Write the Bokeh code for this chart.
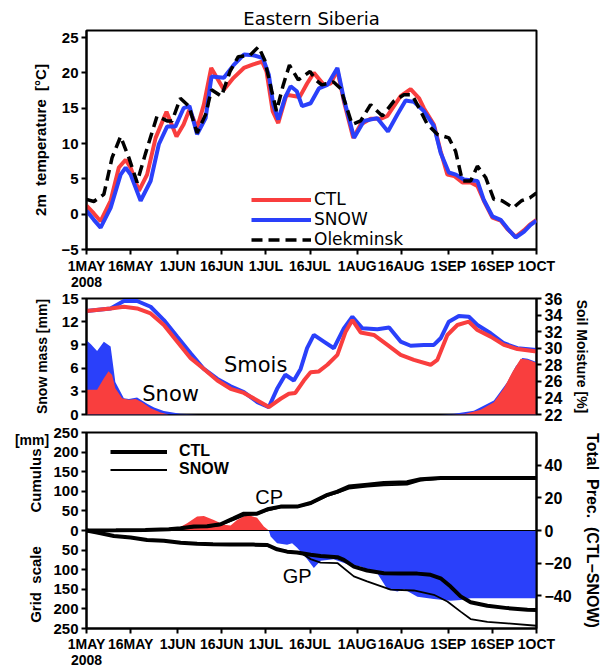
import numpy as np
from bokeh.plotting import figure
from bokeh.models import (Range1d, LinearAxis, FixedTicker, Label, Legend, LegendItem,
                          CustomJSTickFormatter, Span)
from bokeh.layouts import column, row
from bokeh.embed import file_html
from bokeh.resources import INLINE

# ---------------- data ----------------
date_ticks = [0, 15, 31, 46, 61, 76, 92, 107, 123, 138, 153]
date_labels = ["1MAY", "16MAY", "1JUN", "16JUN", "1JUL", "16JUL", "1AUG", "16AUG", "1SEP", "16SEP", "1OCT"]
year_label = "2008"

# 2m temperature [C]
t_ctl_day = [0, 2.5, 4.8, 8.2, 11, 13.3, 15, 17.8, 20.6, 23.5, 27.2, 30.6, 33, 35, 37.6, 39.9, 42.4, 46.7, 50,
             53.5, 56.7, 59.7, 61.2, 63.3, 65.2, 68, 72.5, 75, 77.3, 80.7, 83, 85.3, 87.5, 90.7, 93.2, 96.6, 100,
             102.3, 106.8, 110.2, 113.1, 114.7, 118.1, 120.4, 122.7, 125, 127.8, 130.6, 132.9, 135.1, 138, 140.8,
             143.1, 145.9, 148.7, 151, 153]
t_ctl = [1.2, 0.1, -1.0, 1.9, 6.6, 7.7, 6.6, 3.3, 5.6, 10.8, 14.5, 11.0, 12.7, 14.8, 12.2, 15.5, 20.7, 17.6, 19.3,
         20.7, 21.2, 21.6, 20.2, 14.6, 12.9, 16.9, 16.6, 18.5, 20.0, 18.3, 18.5, 20.4, 16.0, 10.8, 12.7, 13.5, 13.5,
         13.9, 16.7, 17.7, 16.4, 15.0, 12.7, 8.9, 5.6, 5.4, 4.5, 4.5, 4.0, 1.9, -0.5, -0.9,
         -2.1, -3.2, -2.3, -1.4, -0.8]
t_snow_day = [0, 2.5, 4.8, 8.2, 11.6, 13.3, 15, 18.4, 21.8, 24.6, 27.4, 30.2, 33, 35, 37.6, 40.5, 42.5, 46.7, 50,
              53.5, 56.7, 60, 62, 63.5, 65.2, 67.5, 69.4, 71.5, 73.3, 76.2, 79, 81.9, 85.3, 87.5, 91, 94.3, 98.8,
              102.5, 105.7, 108.5, 111.3, 114.7, 118.1, 120.4, 123.2, 125.6, 128.3, 132.9, 135.1, 138, 140.8, 143.1,
              145.9, 148.7, 151, 153]
t_snow = [0.5, -0.8, -1.9, 0.9, 5.6, 6.6, 5.6, 1.9, 4.7, 9.9, 12.4, 12.4, 15.0, 15.3, 11.3, 13.6, 19.5, 19.3, 21.1,
          22.6, 22.5, 22.1, 19.7, 15.5, 13.4, 16.5, 18.1, 17.4, 15.3, 15.7, 17.8, 18.3, 20.7, 16.3, 10.8, 13.2, 13.6,
          11.7, 14.1, 16.1, 15.9, 14.6, 12.5, 8.7, 5.9, 5.6, 4.9, 4.7, 2.0, -0.3, -0.8, -2.0,
          -3.3, -2.5, -1.5, -0.9]
t_obs_day = [0, 2.5, 5.9, 8.7, 11.6, 14.4, 17.2, 20, 24, 27.4, 29.1, 31.9, 34.8, 37.6, 40.5, 42.5, 45.9, 48.8, 51.6,
             55.6, 58.5, 60.6, 63, 64.6, 66.9, 69, 72, 76, 78, 80, 84, 86.4, 90.3, 93.2, 96.6, 100.6, 104.5, 107.9,
             110.7, 113.1, 115.9, 119.3, 123.2, 125.5, 127.8, 130.6, 132.9, 135.7, 138.5, 141.3, 145.1, 147.9,
             150.7, 153]
t_obs = [2.1, 1.8, 2.8, 8.0, 11.0, 8.0, 4.5, 8.5, 13.9, 13.2, 13.2, 16.4, 15.3, 11.5, 14.1, 17.6, 16.7, 20.2, 22.3,
         22.5, 23.7, 21.8, 17.4, 14.6, 18.3, 21.1, 19.0, 20.2, 19.0, 18.3, 18.7, 17.8, 12.7, 13.2, 15.5, 13.9, 16.0,
         16.9, 16.9, 15.0, 12.7, 11.3, 10.8, 8.9, 4.7, 4.7, 6.8, 5.2, 2.1, 1.9, 0.9, 1.9, 2.3, 3.0]

# snow mass [mm]
sn_ctl_day = [0, 3.6, 5.9, 7.5, 8.7, 9.8, 12.1, 14.4, 16.7, 18.9, 21.8, 25.2, 28, 124, 128.9, 134, 138.5, 141.9,
              144.8, 147.6, 149.9, 153]
sn_ctl = [3.2, 3.2, 4.7, 5.6, 5.1, 3.4, 2.1, 1.9, 2.0, 1.6, 0.8, 0.25, 0, 0, 0.1, 0.6, 1.6, 3.4, 5.5, 7.2, 7.1, 6.7]
sn_snow_day = [0, 1.5, 3.6, 5.9, 8.2, 9.8, 12.7, 14.4, 17.2, 20.6, 23, 26.3, 31.9, 38, 120, 125, 131.7, 138.5,
               143.1, 145.9, 148.2, 150, 153]
sn_snow = [9.6, 9.1, 8.2, 9.4, 8.8, 4.2, 2.1, 2.0, 2.2, 1.4, 0.9, 0.45, 0.1, 0, 0, 0.1, 0.5, 1.8, 4.2, 6.2, 7.3, 7.2,
           6.8]

# soil moisture [%]
sm_ctl_day = [0, 8.2, 12.7, 17.2, 21.8, 26.3, 30.8, 35.4, 39.9, 44.5, 49, 53.5, 58.1, 62, 66, 68.8, 71, 73.9, 76.2,
              79, 81.9, 85.3, 88.1, 90.4, 93.2, 97.7, 102.3, 106.8, 111.3, 117, 119.3, 122.7, 126.1, 130, 132.9,
              137.4, 141.9, 146.5, 153]
sm_ctl = [34.5, 34.8, 35.0, 34.8, 34.2, 32.8, 30.8, 28.8, 27.5, 26.1, 25.1, 24.6, 23.7, 22.9, 23.9, 24.5, 24.6, 26.1,
          27.1, 27.2, 28.0, 29.2, 32.0, 33.4, 31.9, 31.6, 30.4, 29.2, 28.6, 28.0, 28.6, 31.6, 32.8, 33.2, 32.2,
          31.4, 30.4, 29.9, 29.6]
sm_snow_day = [0, 8.2, 12.7, 17.2, 21.8, 26.3, 30.8, 35.4, 39.9, 44.5, 49, 53.5, 58.1, 62, 64.8, 67.6, 70.5, 72.8,
               75, 77.3, 80.7, 84.1, 87.5, 90.4, 93.8, 98.9, 102.9, 106.8, 110.2, 114.7, 118.1, 120.4, 123.2, 126.6,
               130, 132.9, 137.4, 141.9, 146.5, 153]
sm_snow = [34.5, 34.8, 35.7, 35.7, 35.0, 33.4, 31.4, 29.4, 27.5, 26.3, 25.4, 24.7, 23.5, 22.9, 25.1, 26.8, 26.1,
           27.5, 30.0, 31.6, 30.8, 30.0, 32.4, 33.8, 32.4, 32.3, 32.5, 30.8, 30.3, 30.4, 30.4, 31.2, 33.2, 33.9,
           33.8, 32.8, 31.8, 30.6, 30.0, 29.8]

# cumulative precipitation [mm]
cp_ctl_day = [0, 10, 20, 28, 32, 36.5, 41, 45.6, 50, 53.5, 58, 61.5, 66, 71.6, 76.2, 81.9, 85.3, 89.2, 95.5, 101.1,
              109, 113.6, 120.4, 153]
cp_ctl = [0, 0.5, 1.5, 3, 6, 10, 11, 16, 31, 43, 43, 54, 61, 61, 70, 91, 99, 112, 117, 121, 123, 131, 134, 134]
cp_snow_day = [0, 10, 20, 28, 32, 36.5, 41, 45.6, 50, 53.5, 58, 61.5, 66, 71.6, 76.2, 81.9, 85.3, 89.2, 95.5, 101.1,
               109, 113.6, 120.4, 126, 153]
cp_snow = [0, 0.5, 1.5, 3, 5, 8, 9, 14, 27, 38, 42, 51, 59, 60, 68, 88, 96, 107, 112, 115, 117, 127, 132, 134, 134]
gp_ctl_day = [0, 3.6, 9.3, 15, 20.6, 26.3, 32, 37.6, 43, 48.8, 56.7, 61.5, 64.8, 68.2, 71.6, 76.2, 79.6, 85.3, 87.5,
              90.9, 95.4, 101.1, 106.8, 112.5, 117, 120.4, 123.8, 127.2, 130.6, 136.3, 143.1, 149.9, 153]
gp_ctl = [0, 5, 14, 18, 24, 26, 31, 34, 35, 36, 36, 37, 48, 54, 56, 62, 65, 68, 75, 92, 102, 109, 110, 110, 113, 122,
          143, 168, 183, 192, 198, 202, 203]
gp_snow_day = [0, 3.6, 9.3, 15, 20.6, 26.3, 32, 37.6, 43, 48.8, 56.7, 61.5, 64.8, 68.2, 72.8, 76.2, 79.6, 85.3,
               90.9, 95.4, 103.4, 111.3, 118.1, 122.7, 127.2, 130.6, 136.3, 143.1, 153]
gp_snow = [0, 5, 14, 18, 24, 26, 31, 34, 35, 36, 37, 39, 48, 52, 57, 73, 82, 83, 117, 130, 151, 153, 164, 181, 207,
           226, 233, 237, 243]

# total precipitation difference CTL-SNOW [mm]
dp_day = [0, 29.7, 34.2, 37.6, 39.9, 43.3, 46.7, 49, 51.2, 54.6, 58, 60.3, 62, 62.6, 64.8, 68.2, 69.9, 71.6, 74.8,
          77.3, 79.6, 84, 88.6, 93.2, 98.8, 102.3, 105.7, 108, 112.5, 118.1, 123.8, 127.2, 130.6, 153]
dp = [0, 0, 4.5, 8.6, 8.9, 6.5, 3.5, 3.0, 6.5, 9.6, 7.8, 2.5, 0, -3.7, -7.8, -8.8, -7.8, -10.6, -17, -23, -18.5,
      -17.6, -20.5, -22, -26, -36, -37.4, -36, -40.5, -42, -43, -42.5, -41.5, -41.5]

# ---------------- styling ----------------
RED = "#f93e3e"
BLUE = "#2a40fa"
FW = 450
LB = 86
RB = 57
TF = "Liberation Sans"
NB = "\u00a0"
MINUS_FMT = "return tick < 0 ? '\\u2212' + Math.abs(tick) : tick.toString()"


def base(fh, top, bottom, yr, left=LB, **kw):
    p = figure(frame_width=FW, frame_height=fh, min_border_left=left, min_border_right=RB, min_border_top=top,
               min_border_bottom=bottom, x_range=Range1d(0, 153), y_range=yr, output_backend="svg",
               toolbar_location=None, tools="", **kw)
    p.grid.visible = False
    p.outline_line_color = "black"
    p.outline_line_width = 2
    p.outline_line_alpha = 1
    p.background_fill_color = "white"
    p.border_fill_color = "white"
    return p


def style_axis(ax, size="15px"):
    ax.axis_line_width = 2
    ax.axis_line_color = "black"
    ax.major_tick_line_width = 2
    ax.major_tick_out = 5
    ax.major_tick_in = 0
    ax.minor_tick_line_color = None
    ax.major_label_text_font = TF
    ax.major_label_text_font_style = "bold"
    ax.major_label_text_font_size = size
    ax.major_label_text_color = "black"
    ax.major_label_standoff = 3
    ax.axis_label_text_font = TF
    ax.axis_label_text_font_style = "bold"
    ax.axis_label_text_font_size = "15px"
    ax.axis_label_text_color = "black"
    ax.axis_label_standoff = 9


def date_axis(p, standoff=3):
    ax = p.xaxis[0]
    ax.ticker = FixedTicker(ticks=date_ticks)
    ax.major_label_overrides = {k: v for k, v in zip(date_ticks, date_labels)}
    style_axis(ax, "14px")
    ax.major_label_standoff = standoff
    yr_ax = LinearAxis(ticker=FixedTicker(ticks=[date_ticks[0]]),
                       major_label_overrides={date_ticks[0]: year_label})
    style_axis(yr_ax, "14px")
    yr_ax.axis_line_color = None
    yr_ax.major_tick_line_color = None
    yr_ax.major_tick_out = 0
    yr_ax.major_label_standoff = 0
    p.add_layout(yr_ax, "below")


def lab(p, x, y, text, font="DejaVu Sans", size="17px", style="normal", angle=0.0, align="center",
        baseline="middle", rng="default"):
    p.add_layout(Label(x=x, y=y, text=text, text_font=font, text_font_size=size, text_font_style=style,
                       angle=angle, text_align=align, text_baseline=baseline, text_color="black",
                       y_range_name=rng))


# ---------------- panel 1: temperature ----------------
p1 = base(219, 30, 38, Range1d(-5, 26), title="Eastern Siberia")
p1.title.align = "center"
p1.title.text_font = "DejaVu Sans"
p1.title.text_font_size = "18px"
p1.title.text_font_style = "normal"
p1.title.text_color = "black"
p1.title.standoff = 4
date_axis(p1)
ya = p1.yaxis[0]
ya.ticker = FixedTicker(ticks=[-5, 0, 5, 10, 15, 20, 25])
ya.formatter = CustomJSTickFormatter(code=MINUS_FMT)
style_axis(ya, "15px")
ya.axis_label = "2m" + NB * 2 + "temperature" + NB * 2 + "[\u00b0C]"

r_ctl = p1.line(t_ctl_day, t_ctl, line_color=RED, line_width=4)
r_snow = p1.line(t_snow_day, t_snow, line_color=BLUE, line_width=4)
r_obs = p1.line(t_obs_day, t_obs, line_color="black", line_width=3.5, line_dash="11 6")

leg1 = Legend(items=[LegendItem(label="CTL", renderers=[r_ctl]),
                     LegendItem(label="SNOW", renderers=[r_snow]),
                     LegendItem(label="Olekminsk", renderers=[r_obs])],
              location=(165, 0), border_line_alpha=0, background_fill_alpha=0, padding=0, margin=0,
              spacing=0, glyph_width=60, glyph_height=17, label_height=17, label_standoff=3,
              label_text_font="DejaVu Sans", label_text_font_size="17px", label_text_color="black")
p1.add_layout(leg1)

# ---------------- panel 2: snow and soil moisture ----------------
p2 = base(116, 9, 9, Range1d(0, 15), x_axis_location=None)
p2.extra_y_ranges = {"sm": Range1d(22, 36)}
ya2 = p2.yaxis[0]
ya2.ticker = FixedTicker(ticks=[0, 3, 6, 9, 12, 15])
style_axis(ya2, "15px")
ya2.axis_label = "Snow mass [mm]"
ya2.axis_label_text_font_size = "14px"
ra2 = LinearAxis(y_range_name="sm", ticker=FixedTicker(ticks=list(range(22, 37, 2))))
style_axis(ra2, "16px")
ra2.axis_label = "Soil Moisture [%]"
ra2.axis_label_text_font_size = "14px"
p2.add_layout(ra2, "right")

p2.varea(x=sn_snow_day, y1=0, y2=sn_snow, fill_color=BLUE)
p2.varea(x=sn_ctl_day, y1=0, y2=sn_ctl, fill_color=RED)
p2.line(sm_snow_day, sm_snow, line_color=BLUE, line_width=4, y_range_name="sm")
p2.line(sm_ctl_day, sm_ctl, line_color=RED, line_width=4, y_range_name="sm")

lab(p2, 28.6, 2.7, "Snow", size="21px")
lab(p2, 57.5, 6.4, "Smois", size="21px")

# ---------------- panel 3: precipitation ----------------
LW3 = 50
p3 = base(196, 9, 36, Range1d(-250, 250), left=LB - LW3)
p3.extra_y_ranges = {"tp": Range1d(-60, 60)}
date_axis(p3, standoff=2)
ya3 = p3.yaxis[0]
ya3.ticker = FixedTicker(ticks=list(range(-250, 251, 50)))
ya3.formatter = CustomJSTickFormatter(code="return Math.abs(tick).toFixed(0)")
style_axis(ya3, "15px")
ra3 = LinearAxis(y_range_name="tp", ticker=FixedTicker(ticks=[-40, -20, 0, 20, 40]),
                 formatter=CustomJSTickFormatter(code=MINUS_FMT))
style_axis(ra3, "16px")
ra3.axis_label = "Total" + NB * 2 + "Prec." + NB * 2 + "(CTL\u2212SNOW)"
ra3.axis_label_text_font_size = "16px"
p3.add_layout(ra3, "right")

dp_arr = np.array(dp, dtype=float)
p3.varea(x=dp_day, y1=0, y2=np.clip(dp_arr, 0, None), fill_color=RED, y_range_name="tp")
p3.varea(x=dp_day, y1=0, y2=np.clip(dp_arr, None, 0), fill_color=BLUE, y_range_name="tp")
p3.add_layout(Span(location=0, dimension="width", line_color="black", line_width=1))

r3c = p3.line(cp_ctl_day, cp_ctl, line_color="black", line_width=4)
r3s = p3.line(cp_snow_day, cp_snow, line_color="black", line_width=1.8)
p3.line(gp_ctl_day, -np.array(gp_ctl, dtype=float), line_color="black", line_width=4)
p3.line(gp_snow_day, -np.array(gp_snow, dtype=float), line_color="black", line_width=1.8)

leg3 = Legend(items=[LegendItem(label="CTL", renderers=[r3c]),
                     LegendItem(label="SNOW", renderers=[r3s])],
              location=(24, 150), border_line_alpha=0, background_fill_alpha=0, padding=0, margin=0,
              spacing=0, glyph_width=57, glyph_height=15, label_height=15, label_standoff=12,
              label_text_font=TF, label_text_font_style="bold", label_text_font_size="16px",
              label_text_color="black")
p3.add_layout(leg3)

lab(p3, 62.1, 86.7, "CP", font=TF, size="20px")
lab(p3, 71.6, -114.8, "GP", font=TF, size="20px")

# narrow side panel carrying the left-hand labels of panel 3
pl = figure(frame_width=LW3, frame_height=196, min_border_left=0, min_border_right=0, min_border_top=9,
            min_border_bottom=36, x_range=Range1d(0, LW3), y_range=Range1d(-250, 250), output_backend="svg",
            toolbar_location=None, tools="", x_axis_location=None, y_axis_location=None)
pl.grid.visible = False
pl.outline_line_color = None
pl.background_fill_color = "white"
pl.border_fill_color = "white"
lab(pl, 35, 127.6, "Cumulus", font=TF, size="15px", style="bold", angle=np.pi / 2)
lab(pl, 35, -137.8, "Grid" + NB * 2 + "scale", font=TF, size="15px", style="bold", angle=np.pi / 2)
lab(pl, 31.5, 229.6, "[mm]", font=TF, size="14px", style="bold")

layout = column(p1, p2, row(pl, p3, spacing=0), spacing=0)
open("out.html", "w").write(file_html(layout, INLINE))
